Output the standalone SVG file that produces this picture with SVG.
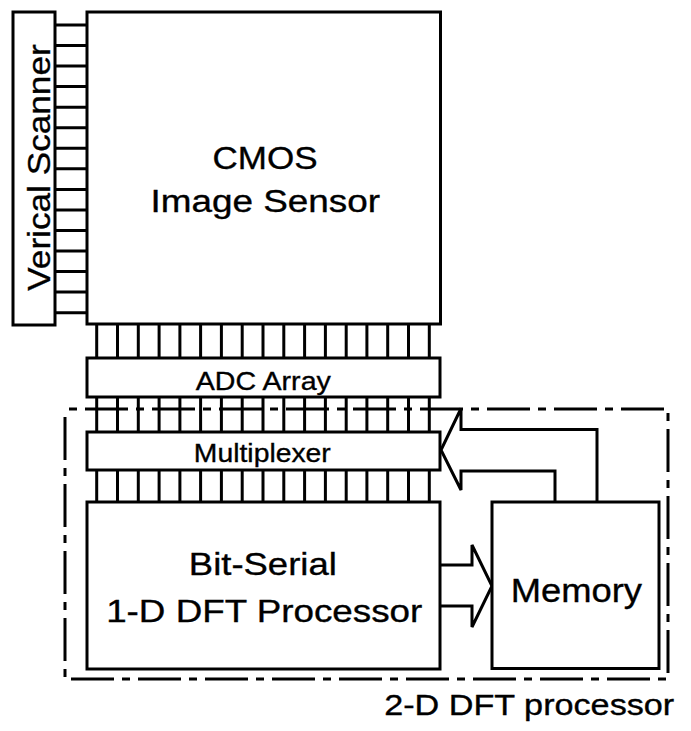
<svg xmlns="http://www.w3.org/2000/svg" width="691" height="731" viewBox="0 0 691 731">
<style>
.box{fill:#fff;stroke:#000;stroke-width:3}
.ln{fill:none;stroke:#000;stroke-width:3}
.dd{fill:none;stroke:#000;stroke-width:3;stroke-dasharray:43 8 8 8}
text{font-family:"Liberation Sans",Arial,Helvetica,sans-serif;fill:#000;stroke:#000;stroke-width:0.35;text-anchor:middle}
</style>
<rect width="691" height="731" fill="#fff"/>
<g id="connectors">
<g class="ln">
<path d="M55,25H87M55,45.5H87M55,66.1H87M55,86.6H87M55,107.2H87M55,127.7H87M55,148.3H87M55,168.8H87M55,189.4H87M55,209.9H87M55,230.5H87M55,251H87M55,271.6H87M55,292.1H87M55,312.7H87"/>
<path id="pins" d="M96.7,324V358M117.5,324V358M138.3,324V358M159.1,324V358M179.9,324V358M200.6,324V358M221.4,324V358M242.2,324V358M263,324V358M283.8,324V358M304.6,324V358M325.4,324V358M346.2,324V358M366.9,324V358M387.7,324V358M408.5,324V358M429.3,324V358"/>
<use href="#pins" transform="translate(0,74)"/>
<use href="#pins" transform="translate(0,146)"/>
<path d="M597,502V429.5H461V408.5L441,450L461,490V471H555V502"/>
<path d="M440,565H472V545L492,586L472,627V606H440"/>
</g>
</g>
<g id="scanner">
<rect class="box" x="13" y="12" width="42" height="313"/>
<text transform="translate(50,167.5) rotate(-90) scale(1.10,1)" font-size="32">Verical Scanner</text>
</g>
<g id="cmos">
<rect class="box" x="87" y="12" width="353.5" height="312"/>
<text transform="translate(265,169) scale(1.13,1)" font-size="31">CMOS</text>
<text transform="translate(265.3,212) scale(1.19,1)" font-size="31">Image Sensor</text>
</g>
<g id="adc">
<rect class="box" x="87" y="358" width="353" height="39"/>
<text transform="translate(263.3,390) scale(1.10,1)" font-size="26">ADC Array</text>
</g>
<g id="mux">
<rect class="box" x="87" y="432" width="353" height="38"/>
<text transform="translate(262.3,462) scale(1.09,1)" font-size="26">Multiplexer</text>
</g>
<g id="dft1d">
<rect class="box" x="87" y="502" width="353" height="167"/>
<text transform="translate(262.8,575) scale(1.14,1)" font-size="32">Bit-Serial</text>
<text transform="translate(264.2,621.5) scale(1.15,1)" font-size="32">1-D DFT Processor</text>
</g>
<g id="memory">
<rect class="box" x="492" y="502" width="167" height="166.5"/>
<text transform="translate(576.3,602) scale(1.07,1)" font-size="34">Memory</text>
</g>
<g id="dft2d">
<path class="dd" d="M65,409H668V679H65Z" stroke-dashoffset="-20"/>
<text transform="translate(529.2,715) scale(1.14,1)" font-size="30">2-D DFT processor</text>
</g>
</svg>
